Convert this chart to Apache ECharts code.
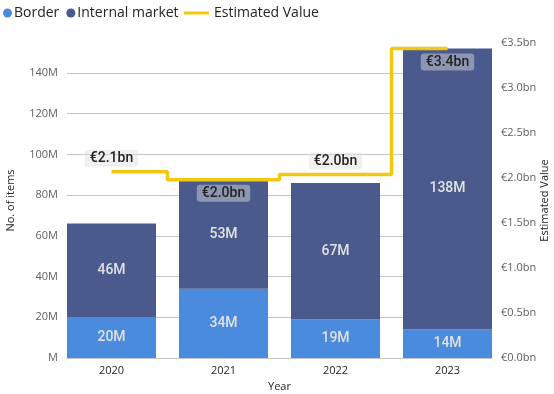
<!DOCTYPE html>
<html><head><meta charset="utf-8">
<script src="https://cdn.jsdelivr.net/npm/echarts@6/dist/echarts.min.js"></script>
<style>html,body{margin:0;padding:0;background:#fff}#c{width:554px;height:394px}</style>
</head><body><div id="c"></div>
<script>
const years = ['2020','2021','2022','2023'];
const border = [20e6, 34e6, 19e6, 14e6];
const internalMarket = [46e6, 53e6, 67e6, 138e6];
const estimatedValue = [2.07e9, 1.98e9, 2.04e9, 3.44e9];
const valueLabelPos = ['top','bottom','top','bottom'];
const leftMax = 154.7e6, rightMax = 3.5e9;

const FONT = '"Open Sans", "Noto Sans", sans-serif';
const LBL = 'Roboto, "DejaVu Sans", sans-serif';
const axisGrey = '#605E5C';
const gridGrey = '#C8C6C4';

const chart = echarts.init(document.getElementById('c'), null, {renderer:'canvas'});
chart.setOption({
  animation:false,
  textStyle:{fontFamily:FONT},
  legend:[
    {data:[{name:'Border',icon:'circle'},{name:'Internal market',icon:'circle'}],
     left:3, top:6, itemWidth:9, itemHeight:9, itemGap:7, padding:0,
     textStyle:{fontFamily:FONT, fontSize:14, color:'#252423', padding:[0,0,0,-3]}},
    {data:[{name:'Estimated Value',icon:'rect'}],
     left:184, top:6, itemWidth:25, itemHeight:3, padding:0,
     textStyle:{fontFamily:FONT, fontSize:14, color:'#252423'}}
  ],
  grid:[
    {left:67, right:62, top:43, bottom:36, outerBoundsMode:'none', containLabel:false},
    {left:55.5, right:50.5, top:43, bottom:36, outerBoundsMode:'none', containLabel:false}
  ],
  xAxis:[
    {gridIndex:0, type:'category', data:years, boundaryGap:true,
     axisLine:{show:true, lineStyle:{color:gridGrey}}, axisTick:{show:false}, axisLabel:{show:false},
     name:'Year', nameLocation:'middle', nameGap:23, nameMoveOverlap:false,
     nameTextStyle:{fontFamily:FONT, fontSize:11, color:'#252423'}},
    {gridIndex:1, type:'category', data:years, boundaryGap:true,
     axisLine:{show:false}, axisTick:{show:false},
     axisLabel:{fontFamily:FONT, fontSize:11, color:'#252423', margin:7}}
  ],
  yAxis:[
    {gridIndex:0, type:'value', min:0, max:leftMax, interval:20e6, position:'left',
     axisLine:{show:false}, axisTick:{show:false},
     splitLine:{show:true, showMaxLine:false, lineStyle:{color:gridGrey, width:1}},
     axisLabel:{showMaxLabel:false, fontFamily:FONT, fontSize:11, color:axisGrey, margin:9,
       formatter:v=> v===0 ? 'M' : (v/1e6)+'M'},
     name:'No. of items', nameLocation:'middle', nameRotate:90, nameGap:51, nameMoveOverlap:false,
     nameTextStyle:{fontFamily:FONT, fontSize:11, color:'#252423'}},
    {gridIndex:0, type:'value', min:0, max:rightMax, interval:0.5e9, position:'right',
     axisLine:{show:false}, axisTick:{show:false}, splitLine:{show:false},
     axisLabel:{fontFamily:FONT, fontSize:11, color:axisGrey, margin:9,
       formatter:v=> '€'+(v/1e9).toFixed(1)+'bn'},
     name:'Estimated Value', nameLocation:'middle', nameRotate:90, nameGap:47, nameMoveOverlap:false,
     nameTextStyle:{fontFamily:FONT, fontSize:11, color:'#252423'}},
    {gridIndex:1, type:'value', min:0, max:leftMax, show:false, splitLine:{show:false}},
    {gridIndex:1, type:'value', min:0, max:rightMax, show:false, splitLine:{show:false}}
  ],
  series:[
    {name:'Border', type:'bar', stack:'s', xAxisIndex:1, yAxisIndex:2, data:border,
     barCategoryGap:'20.5%', itemStyle:{color:'#4A8BDD'},
     label:{show:true, position:'inside', formatter:p=>Math.round(p.value/1e6)+'M',
       fontFamily:LBL, fontSize:14, fontWeight:500, color:'#E1E1E1'}},
    {name:'Internal market', type:'bar', stack:'s', xAxisIndex:1, yAxisIndex:2, data:internalMarket,
     barCategoryGap:'20.5%', itemStyle:{color:'#4A5A8C'},
     label:{show:true, position:'inside', formatter:p=>Math.round(p.value/1e6)+'M',
       fontFamily:LBL, fontSize:14, fontWeight:500, color:'#E1E1E1'}},
    {name:'Estimated Value', type:'line', step:'middle', xAxisIndex:1, yAxisIndex:3,
     data: estimatedValue.map((v,i)=>({value:v, label:{position:valueLabelPos[i]}})),
     symbol:'circle', symbolSize:0, showSymbol:true, z:5,
     lineStyle:{color:'#F2C80F', width:3.5}, itemStyle:{color:'#F2C80F'},
     label:{show:true, distance:5, formatter:p=>'€'+(p.value/1e9).toFixed(1)+'bn',
       fontFamily:LBL, fontSize:14, fontWeight:500, color:'#252423',
       backgroundColor:'rgba(222,222,222,0.45)', borderRadius:3, padding:[2,5,1,5]}}
  ]
});
</script></body></html>
